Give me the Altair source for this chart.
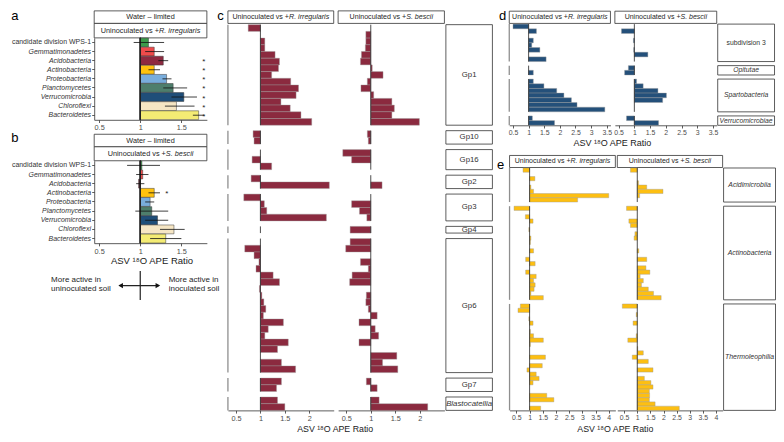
import altair as alt
import pandas as pd

# ---------------- data ----------------
phyla = ["candidate division WPS-1", "Gemmatimonadetes", "Acidobacteria", "Actinobacteria",
         "Proteobacteria", "Planctomycetes", "Verrucomicrobia", "Chloroflexi", "Bacteroidetes"]
phylum_colors = ["#3C9A4A", "#EE4B4B", "#8E2A40", "#FFC20E", "#79ADDC",
                 "#4E7E6C", "#1F4E79", "#F6E6C4", "#F4EC74"]

a_ratio = [1.10, 1.17, 1.28, 1.17, 1.32, 1.40, 1.53, 1.44, 1.71]
a_low = [0.92, 1.06, 1.22, 1.10, 1.27, 1.28, 1.38, 1.30, 1.64]
a_high = [1.29, 1.29, 1.34, 1.24, 1.38, 1.57, 1.69, 1.66, 1.78]
a_sig = [False, False, True, True, True, True, True, True, True]

b_ratio = [1.02, 1.03, 0.98, 1.17, 1.12, 1.14, 1.21, 1.41, 1.31]
b_low = [0.84, 0.95, 0.95, 1.10, 1.06, 0.94, 1.06, 1.24, 1.12]
b_high = [1.24, 1.10, 1.05, 1.24, 1.17, 1.34, 1.34, 1.54, 1.50]
b_sig = [False, False, False, True, False, False, False, False, False]

c_groups = ["Gp1", "Gp10", "Gp16", "Gp2", "Gp3", "Gp4", "Gp6", "Gp7", "Blastocatellia"]
c_sizes = [15, 2, 3, 2, 4, 1, 20, 2, 2]
c_italic = [False, False, False, False, False, False, False, False, True]
c_r_irregularis = [0.75, None, 1.09, 1.09, 1.30, 1.39, 1.37, 1.23, 1.62, 1.78, 1.73, 1.42, 1.61, 1.83, 2.05,
                   0.85, 0.87,
                   None, 0.83, 1.23,
                   0.81, 2.41,
                   0.66, 1.08, 1.13, 2.35,
                   None,
                   None, 0.68, 0.87, 0.97, 0.91, 1.26, 1.39, 0.98, 1.03, 1.07, 1.11, 1.06, 1.47, 1.16, 1.09,
                   1.57, 1.35, None, 1.43, 1.72,
                   1.43, 1.33,
                   1.35, 1.50]
c_s_bescii = [None, 0.90, 0.90, 0.89, 0.81, 0.79, 1.03, 1.25, 0.93, 0.80, 1.06, 1.43, 1.48, 1.43, 1.99,
              0.93, 0.95,
              0.43, 0.61, None,
              None, 1.23,
              None, 0.61, 0.77, 0.92,
              0.58,
              0.58, 0.49, None, 0.79, 0.95, 0.62, 0.57, None, 0.91, 0.90, 0.95, 1.13, 0.76, 1.09, 1.16,
              0.76, None, 1.53, 1.24, 1.55,
              0.91, 1.13,
              1.17, 2.16]

d_groups = ["subdivision 3", "Opitutae", "Spartobacteria", "Verrucomicrobiae"]
d_sizes = [8, 2, 7, 2]
d_italic = [False, True, True, True]
d_r_irregularis = [0.50, 1.25, None, 1.15, 1.10, 1.36, None, 1.56,
                   None, 1.15,
                   1.15, 1.49, 1.90, 2.13, 2.37, 2.55, 3.44,
                   1.12, 1.83]
d_s_bescii = [None, 0.59, None, 0.97, None, 0.98, 1.43, None,
              0.81, 0.69,
              1.07, 1.28, 1.75, 2.02, 1.90, None, None,
              0.75, 1.77]

e_groups = ["Acidimicrobiia", "Actinobacteria", "Thermoleophilia"]
e_sizes = [8, 22, 25]
e_italic = [True, True, True]
e_r_irregularis = [0.75, None, 1.20, None, 1.05, 1.15, 4.00, 2.82,
                   0.41, None, 0.84, 1.13, None, 0.97, None, 1.05, 1.03, None, 1.15, None, 0.85, 1.21,
                   None, 0.85, 1.25, 1.15, 1.21, 1.17, 1.05, 1.52,
                   0.65, 0.56, None, 0.97, 1.13, None, 1.03, 1.15, 1.52, 1.03, None, None, 1.60, None,
                   1.48, 0.90, 1.25, 1.36, 1.13, None, None, 1.65, 1.92, None, 1.42]
e_s_bescii = [0.74, None, None, 1.05, 1.36, 1.98, 1.09, None,
              0.59, None, None, 0.68, 0.74, None, 0.91, 0.88, None, None, 1.06, None, 1.36, None,
              1.33, 1.48, 1.11, 1.23, 1.16, 1.42, 1.62, 1.91,
              0.43, None, 0.96, None, 0.84, None, None, 0.96, 0.64, None, 1.02, 1.23, 0.81, 1.42,
              None, 1.60, None, 1.27, 1.52, 1.60, 1.46, 1.47, 1.46, 1.68, 2.60]

ticks_c = [0.5, 1, 1.5, 2]
ticks_d = [0.5, 1, 1.5, 2, 2.5, 3, 3.5]
ticks_e = [0.5, 1, 1.5, 2, 2.5, 3, 3.5, 4]
ticks_ab = [0.5, 1, 1.5]

AXIS_TITLE = "ASV \u00b9\u2078O APE Ratio"

# ---------------- layout helpers ----------------
FONT = "Liberation Sans"
W, H = 768, 426
SX, SY = W / 784, H / 442


def cx(v):
    return round(v * SX, 2)


def cy(v):
    return round(v * SY, 2)


EM = {' ': .278, '+': .584, '.': .278, '-': .333, '\u2013': .556, 'U': .722, 'R': .722, 'S': .667,
      'W': .944, 'a': .556, 'b': .556, 'c': .5, 'd': .556, 'e': .556, 'g': .556, 'i': .222,
      'l': .222, 'm': .833, 'n': .556, 'o': .556, 'r': .333, 's': .5, 't': .278, 'u': .556, 'v': .5}


def text_em(s):
    return sum(EM.get(ch, 0.55) for ch in s)


dummy = pd.DataFrame({"k": [0]})
layers = []


def box(x1, x2, y1, y2):
    return alt.Chart(dummy).mark_rect(fill="white", stroke="#333333", strokeWidth=0.8).encode(
        x=alt.value(cx(x1)), x2=alt.value(cx(x2)), y=alt.value(cy(y1)), y2=alt.value(cy(y2)))


def text_px(px, py, s, size=7.3, style="normal", align="center", color="#262626"):
    return alt.Chart(dummy).mark_text(text=s, font=FONT, fontSize=size, fontStyle=style,
                                      align=align, baseline="middle", color=color).encode(
        x=alt.value(px), y=alt.value(py))


def text_ref(x, y, s, **kw):
    return text_px(cx(x), cy(y), s, **kw)


def mixed_strip(x1, x2, y1, y2, prefix, species, size=7.2):
    out = [box(x1, x2, y1, y2)]
    wn = text_em(prefix) * size
    wi = text_em(species) * size
    c = (cx(x1) + cx(x2)) / 2
    split = c - (wn + wi) / 2 + wn
    ym = cy((y1 + y2) / 2)
    out.append(text_px(split, ym, prefix, size=size, align="right"))
    out.append(text_px(split, ym, species, size=size, style="italic", align="left"))
    return out


def axis_bottom(y_ref, ticks, size=7.3):
    return alt.Axis(orient="bottom", offset=cy(y_ref) - H, values=ticks, labelExpr="datum.value + ''",
                    title=None, grid=False, tickSize=2.7, tickColor="#333333", tickWidth=0.8,
                    domainColor="#333333", domainWidth=0.8, labelFontSize=size, labelColor="#4d4d4d",
                    labelPadding=1.2, labelFlush=False, labelOverlap=False, labelFont=FONT)


def build_rows(groups, sizes, italic, vals_r, vals_s, gap):
    rows, grps = [], []
    pos, idx = 0.0, 0
    for name, n, it in zip(groups, sizes, italic):
        start = pos
        for _ in range(n):
            rows.append({"group": name, "pos": pos, "pos2": pos + 1,
                         "r": vals_r[idx], "s": vals_s[idx]})
            pos += 1
            idx += 1
        grps.append({"group": name, "start": start, "end": pos, "mid": (start + pos) / 2, "italic": it})
        pos += gap
    return pd.DataFrame(rows), pd.DataFrame(grps), pos - gap


def bar_panel(rows, grps, total, col, fill, xdom, x1, x2, y1, y2, ticks, left_axis, tick_size=7.3):
    xs = alt.Scale(domain=xdom, range=[cx(x1), cx(x2)], nice=False, zero=False)
    ys = alt.Scale(domain=[0, total], range=[cy(y1), cy(y2)], nice=False, zero=False)
    out = []
    if left_axis:
        out.append(alt.Chart(grps).mark_rule(color="#8f8f8f", strokeWidth=1.3).encode(
            x=alt.value(cx(x1)), y=alt.Y("start:Q", scale=ys, axis=None), y2="end:Q"))
    out.append(alt.Chart(rows).transform_filter(f"isValid(datum['{col}'])").mark_bar(
        color=fill, stroke="#9a9a9a", strokeWidth=0.4).encode(
        x=alt.X(f"{col}:Q", scale=xs, axis=axis_bottom(y2, ticks, tick_size)),
        x2=alt.datum(1),
        y=alt.Y("pos:Q", scale=ys, axis=None), y2="pos2:Q"))
    out.append(alt.Chart(grps).mark_rule(color="#222222", strokeWidth=0.8).encode(
        x=alt.X(datum=1, scale=xs, axis=None),
        y=alt.Y("start:Q", scale=ys, axis=None), y2="end:Q"))
    return out, ys


def group_strips(grps, ys, x1, x2, size=7.6):
    out = [alt.Chart(grps).mark_rect(fill="white", stroke="#333333", strokeWidth=0.8).encode(
        x=alt.value(cx(x1)), x2=alt.value(cx(x2)),
        y=alt.Y("start:Q", scale=ys, axis=None), y2="end:Q")]
    for flag, style in [(False, "normal"), (True, "italic")]:
        test = "datum.italic" if flag else "!datum.italic"
        out.append(alt.Chart(grps).transform_filter(test).mark_text(
            font=FONT, fontSize=size, fontStyle=style, color="#333333", baseline="middle").encode(
            x=alt.value(cx((x1 + x2) / 2)),
            y=alt.Y("mid:Q", scale=ys, axis=None), text="group:N"))
    return out


def phylum_panel(ratio, low, high, sig, top, bot, star_x, x1=88, x2=203):
    df = pd.DataFrame({"phylum": phyla, "ratio": ratio, "low": low, "high": high, "sig": sig})
    xs = alt.Scale(domain=[0.44, 1.81], range=[cx(x1), cx(x2)], nice=False, zero=False)
    ys = alt.Scale(domain=phyla, range=[cy(top), cy(bot)], paddingInner=0.03, paddingOuter=0.02)
    yaxis = alt.Axis(orient="left", offset=-cx(x1), title=None, grid=False, tickSize=2.5,
                     tickColor="#333333", tickWidth=0.8, domainColor="#333333", domainWidth=0.8,
                     labelFontSize=6.95, labelColor="#333333", labelPadding=1.2, labelFont=FONT,
                     labelFontStyle={"condition": {"test": "datum.value == 'candidate division WPS-1'",
                                                   "value": "normal"}, "value": "italic"})
    out = []
    out.append(alt.Chart(df).mark_bar(stroke="#3a3a3a", strokeWidth=0.5).encode(
        x=alt.X("ratio:Q", scale=xs, axis=axis_bottom(bot, ticks_ab)),
        x2=alt.datum(1),
        y=alt.Y("phylum:N", scale=ys, axis=yaxis),
        color=alt.Color("phylum:N", scale=alt.Scale(domain=phyla, range=phylum_colors), legend=None)))
    out.append(alt.Chart(df).mark_rule(color="#222222", strokeWidth=0.6).encode(
        x=alt.X(datum=1, scale=xs, axis=None),
        y=alt.value(cy(top)), y2=alt.value(cy(bot))))
    out.append(alt.Chart(df).mark_rule(color="#111111", strokeWidth=0.8).encode(
        x=alt.X("low:Q", scale=xs, axis=None), x2="high:Q",
        y=alt.Y("phylum:N", scale=ys, axis=None, bandPosition=0.5)))
    out.append(alt.Chart(df).transform_filter("datum.sig").mark_text(
        text="*", font=FONT, fontSize=8, baseline="middle", dy=1.5, color="#222222").encode(
        x=alt.value(cx(star_x)),
        y=alt.Y("phylum:N", scale=ys, axis=None, bandPosition=0.5)))
    return out


BOT = 417.5  # bottom of panels c and e

# ---------------- panel a ----------------
layers.append(text_ref(7, 8, "a", size=13, align="center", color="#000000"))
layers.append(box(88, 203, 3, 16))
layers.append(text_ref(145.5, 9.5, "Water \u2013 limited", size=7.3))
layers += mixed_strip(88, 203, 16, 31, "Uninoculated vs +", "R. irregularis", size=7.3)
layers += phylum_panel(a_ratio, a_low, a_high, a_sig, 31, 116, 200)

# ---------------- panel b ----------------
layers.append(text_ref(7, 135, "b", size=13, align="center", color="#000000"))
layers.append(box(88, 203, 131, 144))
layers.append(text_ref(145.5, 137.5, "Water \u2013 limited", size=7.3))
layers += mixed_strip(88, 203, 144, 158.5, "Uninoculated vs +", "S. bescii", size=7.3)
layers += phylum_panel(b_ratio, b_low, b_high, b_sig, 158.5, 244, 162)
layers.append(text_ref(147, 263, AXIS_TITLE, size=9.5, color="#1a1a1a"))

# arrow diagram
arrow_rule = alt.Chart(dummy).mark_rule(color="#222222", strokeWidth=1.2)
layers.append(arrow_rule.encode(x=alt.value(cx(135)), y=alt.value(cy(273)), y2=alt.value(cy(303))))
layers.append(arrow_rule.encode(x=alt.value(cx(114)), x2=alt.value(cx(154)), y=alt.value(cy(288))))
layers.append(alt.Chart(dummy).mark_point(shape="triangle-left", filled=True, size=28, color="#111111",
                                          opacity=1).encode(x=alt.value(cx(115)), y=alt.value(cy(288))))
layers.append(alt.Chart(dummy).mark_point(shape="triangle-right", filled=True, size=28, color="#111111",
                                          opacity=1).encode(x=alt.value(cx(153)), y=alt.value(cy(288))))
layers.append(text_ref(44, 282, "More active in", size=8, align="left"))
layers.append(text_ref(44, 292, "uninoculated soil", size=8, align="left"))
layers.append(text_ref(164, 282, "More active in", size=8, align="left"))
layers.append(text_ref(164, 292, "inoculated soil", size=8, align="left"))

# ---------------- panel c ----------------
c_rows, c_grps, c_total = build_rows(c_groups, c_sizes, c_italic, c_r_irregularis, c_s_bescii, 0.82)
c_dom = [0.335, 2.5]
layers.append(text_ref(217, 8, "c", size=13, color="#000000"))
layers += mixed_strip(224.5, 332.5, 3, 16, "Uninoculated vs +", "R. irregularis", size=7.1)
layers += mixed_strip(337, 445.5, 3, 16, "Uninoculated vs +", "S. bescii", size=7.1)
lay, ys_c = bar_panel(c_rows, c_grps, c_total, "r", "#8B2A3F", c_dom, 224.5, 332.5, 17.3, BOT, ticks_c, True)
layers += lay
lay, _ = bar_panel(c_rows, c_grps, c_total, "s", "#8B2A3F", c_dom, 337, 445.5, 17.3, BOT, ticks_c, False)
layers += lay
layers += group_strips(c_grps, ys_c, 447, 494.5, size=7.8)
layers.append(text_ref(334, 436.3, AXIS_TITLE, size=8.8, color="#1a1a1a"))

# ---------------- panel d ----------------
d_rows, d_grps, d_total = build_rows(d_groups, d_sizes, d_italic, d_r_irregularis, d_s_bescii, 0.87)
d_dom = [0.38, 3.62]
layers.append(text_ref(505, 8, "d", size=13, color="#000000"))
layers += mixed_strip(511.7, 615, 3.3, 16, "Uninoculated vs +", "R. irregularis", size=7.0)
layers += mixed_strip(619.5, 723.5, 3.3, 16, "Uninoculated vs +", "S. bescii", size=7.0)
lay, ys_d = bar_panel(d_rows, d_grps, d_total, "r", "#24507A", d_dom, 511.7, 615, 16.7, 121.7, ticks_d, True, 6.9)
layers += lay
lay, _ = bar_panel(d_rows, d_grps, d_total, "s", "#24507A", d_dom, 619.5, 723.5, 16.7, 121.7, ticks_d, False, 6.9)
layers += lay
layers += group_strips(d_grps, ys_d, 724.5, 782.5, size=6.8)
layers.append(text_ref(617, 140, AXIS_TITLE, size=9, color="#1a1a1a"))

# ---------------- panel e ----------------
e_rows, e_grps, e_total = build_rows(e_groups, e_sizes, e_italic, e_r_irregularis, e_s_bescii, 0.97)
e_dom = [0.24, 4.25]
layers.append(text_ref(503, 163, "e", size=13, color="#000000"))
layers += mixed_strip(512, 620, 153, 165.5, "Uninoculated vs +", "R. irregularis", size=7.0)
layers += mixed_strip(622, 729.5, 153, 165.5, "Uninoculated vs +", "S. bescii", size=7.0)
lay, ys_e = bar_panel(e_rows, e_grps, e_total, "r", "#FDBF12", e_dom, 512, 620, 166, BOT, ticks_e, True, 6.9)
layers += lay
lay, _ = bar_panel(e_rows, e_grps, e_total, "s", "#FDBF12", e_dom, 622, 729.5, 166, BOT, ticks_e, False, 6.9)
layers += lay
layers += group_strips(e_grps, ys_e, 730.5, 783.5, size=6.9)
layers.append(text_ref(620, 436.3, AXIS_TITLE, size=8.8, color="#1a1a1a"))

chart = alt.layer(*layers).resolve_scale(x="independent", y="independent").properties(
    width=W, height=H, autosize=alt.AutoSizeParams(type="none"), padding=0
).configure(font=FONT).configure_view(stroke="transparent")

chart.save("out.html", embed_options={"renderer": "svg", "actions": False})
